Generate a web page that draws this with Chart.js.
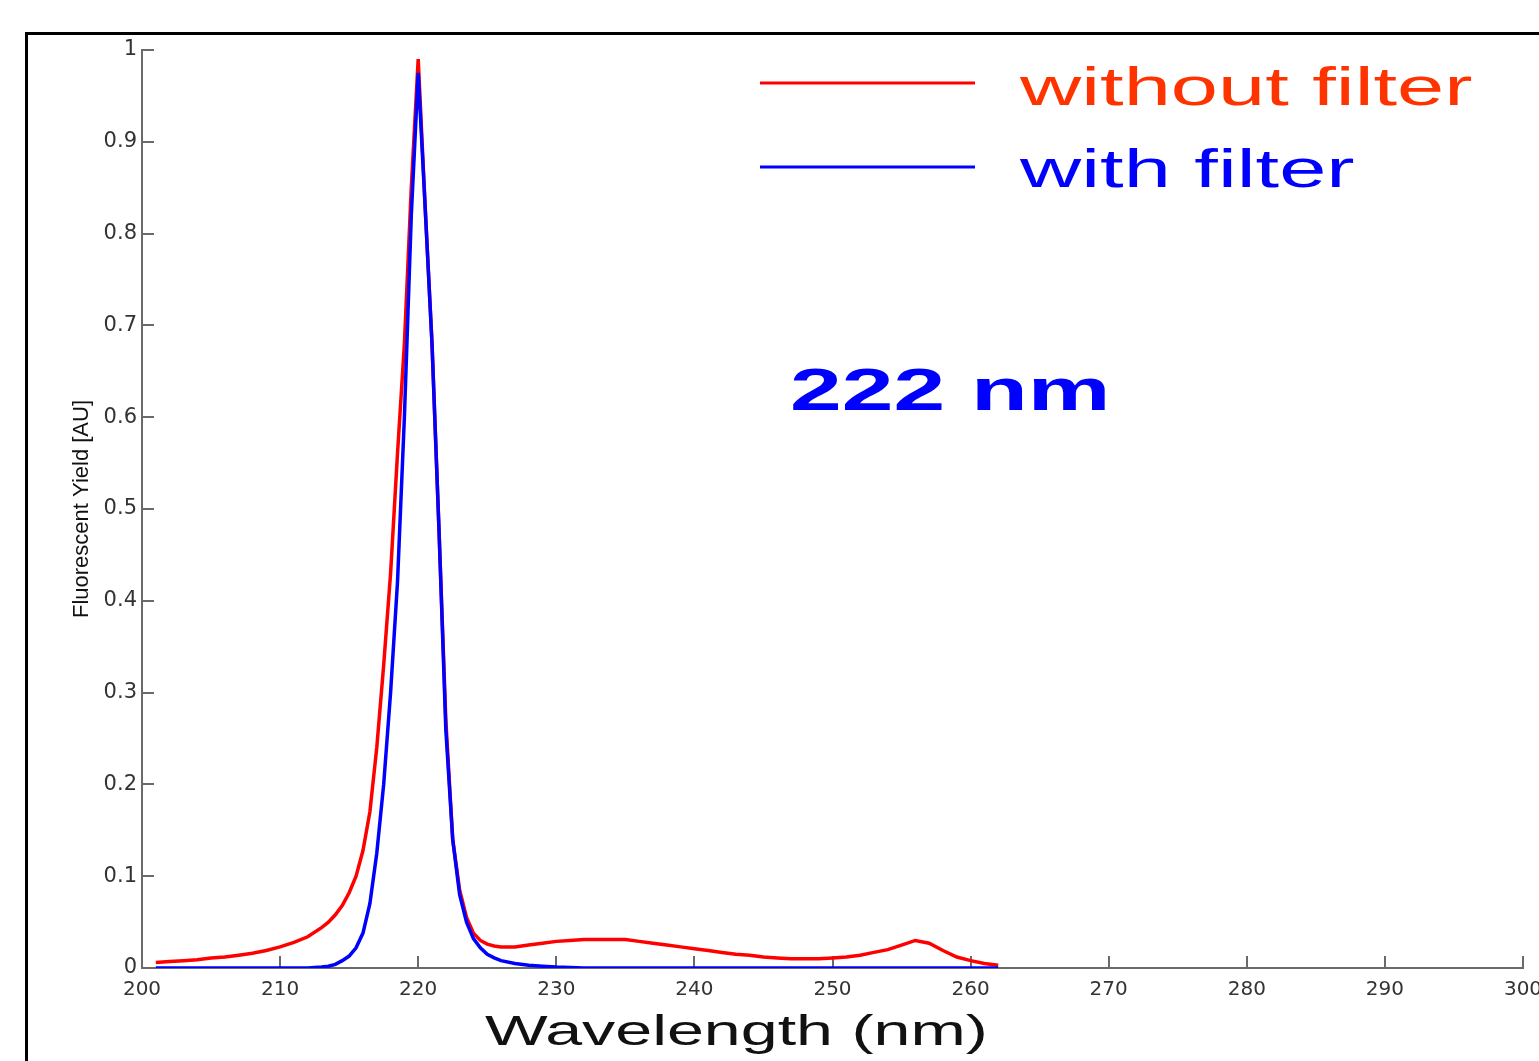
<!DOCTYPE html>
<html>
<head>
<meta charset="utf-8">
<title>Fluorescent Yield - 222 nm</title>
<script src="https://cdn.jsdelivr.net/npm/chart.js@4.4.1/dist/chart.umd.min.js"></script>
<style>
  html, body { margin: 0; padding: 0; background: #fff; }
  #wrap { width: 1539px; height: 1061px; position: relative; }
</style>
</head>
<body>
<div id="wrap"><canvas id="yieldChart"></canvas></div>
<script>
// Wavelength samples (nm), finer around the 220 nm peak
const wavelength = [
  201, 202, 203, 204, 205, 206, 207, 208, 209, 210, 211, 212, 213,
  213.5, 214, 214.5, 215, 215.5, 216, 216.5, 217, 217.5, 218, 218.5, 219, 219.5,
  220, 220.5, 221, 221.5, 222, 222.5, 223, 223.5, 224, 224.5, 225, 225.5, 226,
  227, 228, 229, 230, 231, 232, 233, 234, 235, 236, 237, 238, 239, 240,
  241, 242, 243, 244, 245, 246, 247, 248, 249, 250, 251, 252, 253, 254,
  255, 256, 257, 258, 259, 260, 261, 262
];

// Fluorescent yield without filter (red)
const withoutFilter = [
  0.006, 0.007, 0.008, 0.009, 0.011, 0.012, 0.014, 0.016, 0.019, 0.023, 0.028, 0.034, 0.044,
  0.050, 0.058, 0.068, 0.082, 0.100, 0.128, 0.170, 0.240, 0.330, 0.430, 0.560, 0.680, 0.850,
  0.990, 0.830, 0.680, 0.480, 0.270, 0.140, 0.085, 0.055, 0.038, 0.030, 0.026, 0.024, 0.023,
  0.023, 0.025, 0.027, 0.029, 0.030, 0.031, 0.031, 0.031, 0.031, 0.029, 0.027, 0.025, 0.023, 0.021,
  0.019, 0.017, 0.015, 0.014, 0.012, 0.011, 0.010, 0.010, 0.010, 0.011, 0.012, 0.014, 0.017, 0.020,
  0.025, 0.030, 0.027, 0.019, 0.012, 0.008, 0.005, 0.003
];

// Fluorescent yield with filter (blue)
const withFilter = [
  0, 0, 0, 0, 0, 0, 0, 0, 0, 0, 0, 0, 0.001,
  0.002, 0.004, 0.008, 0.013, 0.022, 0.038, 0.070, 0.125, 0.200, 0.300, 0.420, 0.600, 0.820,
  0.975, 0.830, 0.680, 0.480, 0.260, 0.140, 0.080, 0.050, 0.032, 0.022, 0.015, 0.011, 0.008,
  0.005, 0.003, 0.002, 0.001, 0.0005, 0, 0, 0, 0, 0, 0, 0, 0, 0,
  0, 0, 0, 0, 0, 0, 0, 0, 0, 0, 0, 0, 0, 0,
  0, 0, 0, 0, 0, 0, 0, 0
];

const seriesNames = ["without filter", "with filter"];
const xTicks = [200, 210, 220, 230, 240, 250, 260, 270, 280, 290, 300];
const yTicks = [0, 0.1, 0.2, 0.3, 0.4, 0.5, 0.6, 0.7, 0.8, 0.9, 1];

const RED = "#ff0000";
const BLUE = "#0000ff";
const AXIS = "#6a6a6a";

// text drawn wider than the font, like the original figure
function wideText(ctx, text, x, y, font, color, sx) {
  ctx.save();
  ctx.font = font;
  ctx.fillStyle = color;
  ctx.textAlign = "left";
  ctx.textBaseline = "alphabetic";
  ctx.translate(x, y);
  ctx.scale(sx, 1);
  ctx.fillText(text, 0, 0);
  ctx.restore();
}

// frame, inward ticks, legend and labels
const figurePlugin = {
  id: "figure",
  beforeDraw(chart) {
    const ctx = chart.ctx;
    ctx.save();
    ctx.fillStyle = "#fff";
    ctx.fillRect(0, 0, chart.width, chart.height);
    ctx.strokeStyle = "#000";
    ctx.lineWidth = 3;
    ctx.beginPath();
    ctx.moveTo(26.5, chart.height + 5);
    ctx.lineTo(26.5, 33.5);
    ctx.lineTo(chart.width + 5, 33.5);
    ctx.stroke();
    ctx.restore();
  },
  beforeDatasetsDraw(chart) {
    const ctx = chart.ctx;
    const { x, y } = chart.scales;
    ctx.save();
    ctx.strokeStyle = AXIS;
    ctx.lineWidth = 2;
    ctx.beginPath();
    x.ticks.forEach((t, i) => {
      const px = Math.round(x.getPixelForTick(i));
      ctx.moveTo(px, y.bottom);
      ctx.lineTo(px, y.bottom - 12);
    });
    y.ticks.forEach((t, i) => {
      const py = Math.round(y.getPixelForTick(i));
      ctx.moveTo(x.left, py);
      ctx.lineTo(x.left + 12, py);
    });
    ctx.stroke();
    ctx.restore();
  },
  afterDraw(chart) {
    const ctx = chart.ctx;
    const ds = chart.data.datasets;

    // legend
    ctx.save();
    ctx.lineWidth = 3;
    ctx.strokeStyle = ds[0].borderColor;
    ctx.beginPath();
    ctx.moveTo(760, 83);
    ctx.lineTo(975, 83);
    ctx.stroke();
    ctx.strokeStyle = ds[1].borderColor;
    ctx.beginPath();
    ctx.moveTo(760, 167);
    ctx.lineTo(975, 167);
    ctx.stroke();
    ctx.restore();
    wideText(ctx, ds[0].label, 1020, 105, "53px 'Liberation Sans', Arial, sans-serif", "#ff3300", 1.6);
    wideText(ctx, ds[1].label, 1020, 187, "53px 'Liberation Sans', Arial, sans-serif", BLUE, 1.6);

    // annotation
    wideText(ctx, "222 nm", 790, 410, "bold 60px 'Liberation Sans', Arial, sans-serif", BLUE, 1.55);

    // x axis title
    wideText(ctx, "Wavelength (nm)", 485, 1045, "42px 'Liberation Sans', Arial, sans-serif", "#111", 1.58);
  }
};

const toPoints = (ys) => wavelength.map((w, i) => ({ x: w, y: ys[i] }));

new Chart(document.getElementById("yieldChart"), {
  type: "line",
  data: {
    datasets: [
      {
        label: seriesNames[0],
        data: toPoints(withoutFilter),
        borderColor: RED,
        borderWidth: 3.5,
        pointRadius: 0,
        tension: 0,
        order: 1
      },
      {
        label: seriesNames[1],
        data: toPoints(withFilter),
        borderColor: BLUE,
        borderWidth: 3.5,
        pointRadius: 0,
        tension: 0,
        order: 0
      }
    ]
  },
  options: {
    responsive: true,
    maintainAspectRatio: false,
    animation: false,
    events: [],
    layout: { padding: { left: 56, top: 50, right: 0, bottom: 0 } },
    plugins: {
      legend: { display: false },
      tooltip: { enabled: false }
    },
    scales: {
      x: {
        type: "linear",
        min: 200,
        max: 300,
        grid: { display: false, drawTicks: false },
        border: { display: true, color: AXIS, width: 2 },
        afterBuildTicks: (s) => { s.ticks = xTicks.map((v) => ({ value: v })); },
        afterFit: (s) => { s.height = 93; s.paddingLeft = 0; s.paddingRight = 16; },
        ticks: {
          padding: 10,
          color: "#333",
          font: { family: "'DejaVu Sans', sans-serif", size: 20 }
        }
      },
      y: {
        min: 0,
        max: 1,
        grid: { display: false, drawTicks: false },
        border: { display: true, color: AXIS, width: 2 },
        afterBuildTicks: (s) => { s.ticks = yTicks.map((v) => ({ value: v })); },
        afterFit: (s) => { s.width = 86; s.paddingTop = 0; s.paddingBottom = 0; },
        ticks: {
          padding: 5,
          color: "#333",
          font: { family: "'DejaVu Sans', sans-serif", size: 21 },
          callback: (v) => String(Math.round(v * 10) / 10)
        },
        title: {
          display: true,
          text: "Fluorescent Yield [AU]",
          color: "#111",
          padding: { top: 13, bottom: 0 },
          font: { family: "'Liberation Sans', Arial, sans-serif", size: 22 }
        }
      }
    }
  },
  plugins: [figurePlugin]
});
</script>
</body>
</html>
